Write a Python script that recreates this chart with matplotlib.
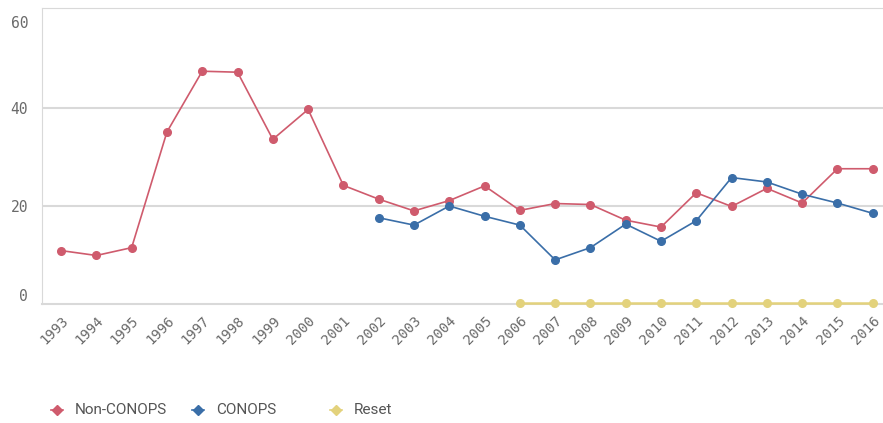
import numpy as np
import matplotlib
matplotlib.use("Agg")
import matplotlib.pyplot as plt
import matplotlib.transforms as mtransforms
from matplotlib.lines import Line2D

years = list(range(1993, 2017))
year_labels = [str(y) for y in years]

non_conops = [10.9, 9.9, 11.5, 35.1, 47.5, 47.3, 33.6, 39.7, 24.2, 21.4, 19.0, 21.1,
              24.1, 19.1, 20.5, 20.3, 17.1, 15.7, 22.7, 19.9, 23.6, 20.6, 27.6, 27.6]
conops_years = list(range(2002, 2017))
conops = [17.6, 16.1, 20.0, 17.9, 16.1, 9.0, 11.5, 16.3, 12.8, 17.0, 25.8, 24.9, 22.4, 20.6, 18.5]
reset_years = list(range(2006, 2017))
reset = [0.3] * len(reset_years)

red = "#cf5b6d"
blue = "#3a6ea8"
yellow = "#e3d27c"
grid_c = "#d9d9d9"
txt_c = "#6a6a6a"

fig = plt.figure(figsize=(8.83, 4.23), dpi=100)
ax = fig.add_axes([42 / 883, 1 - 304 / 423, 841 / 883, 296 / 423])

idx = {y: i for i, y in enumerate(years)}
ax.plot([idx[y] for y in years], non_conops, color=red, lw=1.2, marker="o", ms=5.5, zorder=3)
ax.plot([idx[y] for y in conops_years], conops, color=blue, lw=1.2, marker="o", ms=5.5, zorder=4)
ax.plot([idx[y] for y in reset_years], reset, color=yellow, lw=1.8, marker="o", ms=5.5,
        zorder=5, clip_on=False)

ax.set_xlim(-0.54, 23.29)
ax.set_ylim(0, 60.4)

for v in [20, 40]:
    ax.axhline(v, color=grid_c, lw=1.5, zorder=1)

ax.spines["right"].set_visible(False)
ax.spines["top"].set_color(grid_c)
ax.spines["left"].set_color(grid_c)
ax.spines["bottom"].set_color(grid_c)
ax.spines["bottom"].set_linewidth(1.5)

ax.set_yticks([0, 20, 40, 60])
ax.set_yticklabels(["0", "20", "40", "60"], family="DejaVu Sans Mono")
ax.tick_params(axis="y", length=0, pad=10, labelsize=10.5, labelcolor=txt_c)
ylabs = ax.get_yticklabels()
ylabs[0].set_va("bottom")
ylabs[3].set_va("top")
ylabs[3].set_transform(ylabs[3].get_transform() +
                       mtransforms.ScaledTranslation(0, -4 / 72, fig.dpi_scale_trans))

ax.set_xticks(range(len(years)))
ax.set_xticklabels(year_labels, rotation=45, ha="right", va="top", rotation_mode="anchor",
                   family="DejaVu Sans Mono")
ax.tick_params(axis="x", length=0, pad=7, labelsize=10, labelcolor=txt_c)

# legend
leg_items = [("Non-CONOPS", red, 57), ("CONOPS", blue, 198), ("Reset", yellow, 336)]
yf = 1 - 410 / 423
for name, col, xpx in leg_items:
    fig.add_artist(Line2D([(xpx - 6) / 883, (xpx + 6) / 883], [yf, yf], color=col, lw=1.2,
                          transform=fig.transFigure))
    fig.add_artist(Line2D([xpx / 883], [yf], color=col, marker="D", ms=5.5,
                          transform=fig.transFigure))
    fig.text((xpx + 18) / 883, yf, name, color="#555555", fontsize=11, va="center",
             family=["Roboto", "DejaVu Sans"])

fig.savefig("out.png", dpi=100)
